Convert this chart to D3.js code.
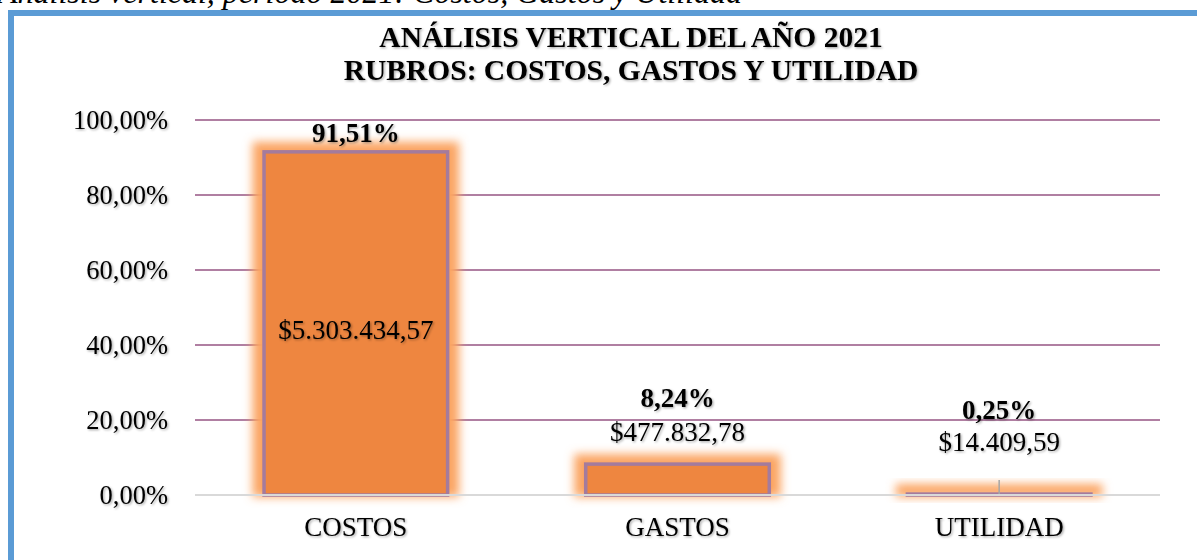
<!DOCTYPE html>
<html><head><meta charset="utf-8">
<script src="https://cdn.jsdelivr.net/npm/d3@7"></script>
<style>
html,body{margin:0;padding:0;background:#fff;overflow:hidden;}
svg{display:block;}
text{font-family:"Liberation Serif","Times New Roman",serif;fill:#000;}
</style></head>
<body>
<svg id="chart" width="1197" height="560"></svg>
<script>
const caption = "Análisis vertical, período 2021: Costos, Gastos y Utilidad";
const titleLines = ["ANÁLISIS VERTICAL DEL AÑO 2021", "RUBROS: COSTOS, GASTOS Y UTILIDAD"];
const categories = ["COSTOS", "GASTOS", "UTILIDAD"];
const percentages = [91.51, 8.24, 0.25];
const amounts = [5303434.57, 477832.78, 14409.59];
const yTicks = [0, 20, 40, 60, 80, 100];

const loc = d3.formatLocale({decimal: ",", thousands: ".", grouping: [3], currency: ["$", ""]});
const fmtPct = v => loc.format(".2f")(v) + "%";
const fmtMoney = loc.format("$,.2f");

const svg = d3.select("#chart");
const defs = svg.append("defs");
const sh = defs.append("filter").attr("id", "tshadow").attr("x", "-10%").attr("y", "-20%").attr("width", "130%").attr("height", "160%");
sh.append("feDropShadow").attr("dx", 1.2).attr("dy", 1.2).attr("stdDeviation", 0.8).attr("flood-color", "#000").attr("flood-opacity", 0.35);
const glow = defs.append("filter").attr("id", "glow").attr("x", "-40%").attr("y", "-40%").attr("width", "180%").attr("height", "180%");
glow.append("feGaussianBlur").attr("stdDeviation", 5);

// caption (partly cut off at top)
svg.append("text").attr("x", -2).attr("y", 3).attr("font-size", 32).attr("font-style", "italic")
  .attr("font-family", "Liberation Serif").text(caption);

// blue frame
svg.append("rect").attr("x", 11).attr("y", 13).attr("width", 1300).attr("height", 700)
  .attr("fill", "#fff").attr("stroke", "#5b9bd5").attr("stroke-width", 6);

// title
const title = svg.append("g").attr("filter", "url(#tshadow)");
titleLines.forEach((t, i) => {
  title.append("text").attr("x", 631).attr("y", 47 + i * 33).attr("text-anchor", "middle")
    .attr("font-family", "Liberation Serif")
    .attr("font-size", 29.5).attr("font-weight", "bold").text(t);
});

const x = d3.scaleBand().domain(categories).range([195, 1160]).paddingInner(0.42).paddingOuter(0.21);
const y = d3.scaleLinear().domain([0, 100]).range([495, 120]);

// grid
const grid = svg.append("g");
grid.selectAll("line").data(yTicks).join("line")
  .attr("x1", 195).attr("x2", 1160).attr("y1", d => y(d)).attr("y2", d => y(d))
  .attr("stroke", d => d === 0 ? "#d9d9d9" : "#b07fa2").attr("stroke-width", 2);

// y axis labels
const yAxis = svg.append("g").attr("transform", "translate(195,0)")
  .call(d3.axisLeft(y).tickValues(yTicks).tickFormat(fmtPct).tickSize(0).tickPadding(27));
yAxis.select(".domain").remove();
yAxis.selectAll("text").attr("font-size", 26.5).attr("font-family", "Liberation Serif").attr("fill", "#000").attr("filter", "url(#tshadow)");

// bars
const data = categories.map((c, i) => ({c, p: percentages[i], a: amounts[i]}));
const bars = svg.append("g");
bars.selectAll("rect.glow").data(data).join("rect").attr("class", "glow")
  .attr("x", d => x(d.c) - 10).attr("y", d => y(d.p) - 10)
  .attr("width", x.bandwidth() + 20).attr("height", d => y(0) - y(d.p) + 12)
  .attr("fill", "#fba462").attr("filter", "url(#glow)");
// redraw zero line over glow bottom
svg.append("line").attr("x1", 195).attr("x2", 1160).attr("y1", y(0)).attr("y2", y(0)).attr("stroke", "#d9d9d9").attr("stroke-width", 2);
bars.selectAll("rect.bar").data(data).join("rect").attr("class", "bar")
  .attr("x", d => x(d.c) + 1.5).attr("y", d => y(d.p))
  .attr("width", x.bandwidth() - 3).attr("height", d => y(0) - y(d.p))
  .attr("fill", "#ee8640").attr("stroke", "#a47b9d").attr("stroke-width", 3.5);

// labels
const lab = svg.append("g").attr("filter", "url(#tshadow)");
data.forEach(d => {
  const cx = x(d.c) + x.bandwidth() / 2;
  const top = y(d.p);
  const h = y(0) - top;
  let amtY, pctY;
  if (h > 100) {
    amtY = (top + y(0)) / 2 + 16;
    pctY = top - 10;
  } else if (h > 6) {
    amtY = top - 23;
    pctY = amtY - 34;
  } else {
    amtY = top - 43;
    pctY = amtY - 32;
    svg.append("line").attr("x1", cx).attr("x2", cx).attr("y1", top - 14).attr("y2", top)
      .attr("stroke", "#a6a6a6").attr("stroke-width", 1.5);
  }
  lab.append("text").attr("x", cx).attr("y", amtY).attr("text-anchor", "middle").attr("font-size", 27).text(fmtMoney(d.a));
  lab.append("text").attr("x", cx).attr("y", pctY).attr("text-anchor", "middle").attr("font-size", 27).attr("font-weight", "bold").text(fmtPct(d.p));
});

// x axis labels
const xAxis = svg.append("g").attr("transform", `translate(0,${y(0)})`)
  .call(d3.axisBottom(x).tickSize(0).tickPadding(22));
xAxis.select(".domain").remove();
xAxis.selectAll("text").attr("font-size", 27).attr("font-family", "Liberation Serif").attr("fill", "#000").attr("filter", "url(#tshadow)");
</script>
</body></html>
